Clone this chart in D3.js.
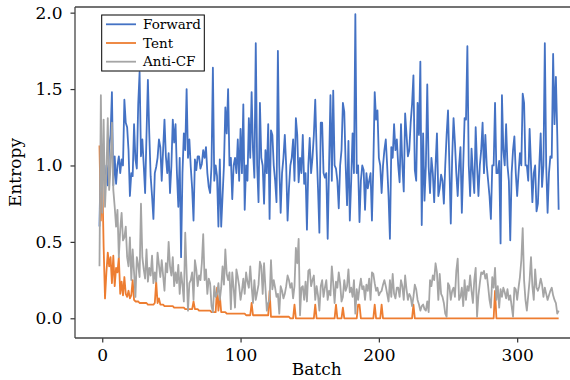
<!DOCTYPE html>
<html>
<head>
<meta charset="utf-8">
<script src="https://cdn.jsdelivr.net/npm/d3@7"></script>
<style>
  html, body { margin: 0; padding: 0; background: #fff; }
  svg { display: block; }
  text { font-family: "DejaVu Serif", "Liberation Serif", serif; fill: #000; }
</style>
</head>
<body>
<svg id="chart" width="570" height="380"></svg>
<script>
// ---- data ----
const batchStart = -2;
const seriesNames = ["Forward", "Tent", "Anti-CF"];
const xTicks = [0, 100, 200, 300];
const yTicks = [0.0, 0.5, 1.0, 1.5, 2.0];

const forward = [
0.60,1.12,
0.90,1.00,0.86,1.00,0.87,1.12,1.20,1.48,0.87,1.06,
0.88,1.00,1.06,0.95,1.04,1.00,1.43,1.28,1.25,1.10,
0.80,0.95,0.93,1.27,1.04,0.98,1.40,1.61,1.06,1.17,
1.00,0.82,1.20,1.56,1.21,0.93,0.80,0.65,0.95,0.99,
1.05,1.17,1.12,0.90,1.10,1.30,1.06,0.95,1.08,0.82,
1.00,1.30,1.15,1.27,0.95,0.73,1.05,0.40,0.95,1.21,
1.10,1.50,1.05,1.17,0.99,0.85,0.64,1.04,0.97,1.06,
1.06,0.98,1.01,1.10,1.05,1.12,0.95,0.86,0.82,1.00,
1.64,0.90,1.00,0.93,0.60,1.04,0.60,0.80,1.00,1.38,
1.21,1.50,1.00,1.05,0.78,1.00,1.05,0.95,1.17,0.90,
1.24,0.95,1.40,0.71,1.00,0.90,1.31,1.05,1.48,1.10,
0.92,1.80,1.00,0.76,1.41,1.05,1.00,0.75,1.10,0.95,
1.27,0.65,1.23,1.20,1.00,0.90,0.76,1.75,1.00,0.69,
0.95,1.05,1.20,1.00,0.64,0.85,1.00,1.05,1.17,0.90,
1.31,1.20,0.89,1.05,0.95,1.20,0.88,0.95,0.58,1.00,
1.18,0.95,1.05,1.20,1.43,1.10,0.85,0.56,1.28,1.28,
0.95,0.92,0.95,0.52,1.00,1.46,0.90,1.49,1.00,0.98,
0.90,0.72,1.00,1.10,1.41,1.35,1.00,0.74,1.16,0.64,
0.90,1.21,0.95,1.99,0.95,1.00,0.63,0.90,1.00,0.97,
0.71,0.95,0.85,0.90,0.95,0.64,1.00,1.48,1.30,1.36,
1.05,1.00,0.82,1.00,1.10,1.17,1.00,0.80,0.52,1.12,
1.05,1.27,1.10,1.17,1.00,0.89,1.27,1.00,0.83,1.34,
1.20,1.06,1.10,1.28,1.40,1.59,0.97,0.90,1.41,1.20,
1.68,0.61,1.21,0.77,1.00,1.53,0.99,0.82,1.05,0.95,
0.76,1.00,1.21,0.80,0.85,0.94,0.90,0.75,1.00,1.20,
1.36,1.00,0.62,1.05,1.31,1.15,0.95,0.80,1.00,1.12,
0.69,1.00,1.31,1.30,1.78,1.00,0.80,1.11,0.95,0.82,
1.25,1.00,0.80,1.00,1.10,1.28,0.95,1.20,1.00,0.90,
0.80,0.65,1.00,1.00,1.41,0.95,0.95,1.03,0.49,1.46,
1.10,1.00,1.27,1.00,0.90,0.51,0.95,1.10,1.19,0.95,
0.80,0.95,1.08,1.00,1.47,1.41,1.00,1.00,0.90,1.24,
1.00,0.76,0.95,1.00,0.70,0.75,1.00,1.21,0.86,1.00,
1.80,1.00,0.69,0.95,1.06,1.05,1.73,1.27,1.58,1.20,0.71
];

const tent = [
1.13,0.64,
0.95,0.47,0.13,0.30,0.43,0.34,0.40,0.23,0.41,0.21,
0.33,0.30,0.40,0.16,0.24,0.15,0.27,0.16,0.14,0.18,
0.13,0.15,0.25,0.12,0.11,0.11,0.11,0.10,0.10,0.10,
0.10,0.10,0.10,0.09,0.09,0.09,0.09,0.09,0.10,0.24,
0.10,0.13,0.09,0.09,0.09,0.08,0.08,0.08,0.08,0.08,
0.08,0.08,0.07,0.07,0.07,0.07,0.07,0.07,0.07,0.07,
0.06,0.06,0.06,0.06,0.06,0.06,0.11,0.06,0.06,0.06,
0.05,0.05,0.05,0.05,0.05,0.05,0.05,0.05,0.05,0.04,
0.04,0.04,0.04,0.20,0.05,0.15,0.04,0.04,0.04,0.04,
0.03,0.03,0.03,0.03,0.03,0.03,0.03,0.03,0.03,0.03,
0.03,0.03,0.03,0.03,0.02,0.02,0.02,0.02,0.10,0.02,
0.02,0.02,0.02,0.02,0.02,0.02,0.02,0.02,0.02,0.02,
0.02,0.18,0.01,0.01,0.01,0.01,0.01,0.01,0.01,0.01,
0.01,0.01,0.01,0.01,0.01,0.01,0.00,0.00,0.00,0.09,
0.00,0.00,0.00,0.00,0.00,0.00,0.00,0.00,0.00,0.00,
0.00,0.00,0.00,0.00,0.09,0.00,0.00,0.00,0.00,0.00,
0.00,0.00,0.00,0.00,0.00,0.00,0.00,0.00,0.00,0.09,
0.00,0.00,0.00,0.00,0.07,0.00,0.00,0.00,0.00,0.00,
0.00,0.00,0.00,0.00,0.00,0.09,0.09,0.00,0.00,0.00,
0.00,0.00,0.00,0.00,0.00,0.00,0.00,0.09,0.00,0.00,
0.00,0.00,0.09,0.00,0.00,0.00,0.00,0.00,0.00,0.00,
0.00,0.00,0.00,0.00,0.00,0.00,0.00,0.00,0.00,0.00,
0.00,0.00,0.00,0.00,0.00,0.09,0.00,0.00,0.00,0.00,
0.00,0.00,0.00,0.00,0.00,0.00,0.00,0.00,0.00,0.00,
0.00,0.00,0.00,0.00,0.00,0.00,0.00,0.00,0.00,0.00,
0.00,0.00,0.00,0.00,0.00,0.00,0.00,0.00,0.00,0.00,
0.00,0.00,0.00,0.00,0.00,0.00,0.00,0.00,0.00,0.00,
0.00,0.00,0.00,0.00,0.00,0.00,0.00,0.00,0.00,0.00,
0.00,0.00,0.00,0.00,0.18,0.00,0.00,0.00,0.00,0.00,
0.00,0.00,0.00,0.00,0.00,0.00,0.00,0.00,0.00,0.00,
0.00,0.00,0.00,0.00,0.00,0.00,0.00,0.00,0.00,0.00,
0.00,0.00,0.00,0.00,0.00,0.00,0.00,0.00,0.00,0.00,
0.00,0.00,0.00,0.00,0.00,0.00,0.00,0.00,0.00,0.00,0.00
];

const antiCF = [
0.34,1.46,
0.69,1.30,0.73,0.95,1.31,0.84,0.99,1.28,0.84,0.73,
0.60,0.71,0.40,0.58,0.69,0.51,0.53,0.60,0.40,0.34,
0.53,0.25,0.45,0.30,0.14,0.40,0.35,0.27,0.75,0.40,
0.32,0.26,0.45,0.24,0.33,0.28,0.41,0.23,0.30,0.24,
0.43,0.35,0.27,0.38,0.28,0.18,0.36,0.30,0.50,0.34,
0.28,0.40,0.21,0.30,0.23,0.35,0.16,0.30,0.22,0.11,
0.56,0.30,0.05,0.23,0.25,0.30,0.12,0.38,0.32,0.21,
0.28,0.25,0.36,0.55,0.25,0.32,0.16,0.26,0.23,0.08,
0.04,0.21,0.14,0.16,0.23,0.12,0.20,0.34,0.22,0.45,
0.29,0.25,0.30,0.06,0.30,0.20,0.07,0.32,0.27,0.21,
0.12,0.18,0.26,0.16,0.30,0.24,0.20,0.34,0.21,0.10,
0.25,0.12,0.17,0.22,0.37,0.34,0.16,0.36,0.20,0.05,
0.10,0.12,0.38,0.19,0.25,0.20,0.14,0.16,0.03,0.21,
0.18,0.13,0.16,0.21,0.28,0.25,0.20,0.23,0.13,0.21,
0.46,0.36,0.52,0.02,0.20,0.21,0.12,0.24,0.11,0.31,
0.32,0.21,0.25,0.28,0.12,0.21,0.15,0.05,0.21,0.25,
0.14,0.20,0.25,0.12,0.18,0.15,0.34,0.23,0.10,0.24,
0.20,0.30,0.23,0.11,0.14,0.25,0.18,0.21,0.32,0.17,
0.20,0.14,0.25,0.03,0.19,0.12,0.20,0.26,0.19,0.21,
0.12,0.22,0.18,0.26,0.12,0.30,0.29,0.23,0.18,0.20,
0.15,0.17,0.18,0.22,0.25,0.21,0.16,0.11,0.25,0.14,
0.29,0.16,0.13,0.20,0.20,0.14,0.25,0.21,0.12,0.28,
0.19,0.12,0.16,0.14,0.08,0.14,0.22,0.19,0.12,0.09,
0.05,0.08,0.09,0.06,0.05,0.11,0.04,0.25,0.21,0.28,
0.25,0.36,0.30,0.12,0.29,0.16,0.14,0.10,0.03,0.01,
0.23,0.21,0.12,0.18,0.20,0.14,0.31,0.39,0.12,0.14,
0.20,0.08,0.25,0.12,0.21,0.18,0.28,0.18,0.10,0.25,
0.33,0.01,0.15,0.23,0.30,0.29,0.31,0.26,0.29,0.21,
0.12,0.07,0.27,0.20,0.33,0.12,0.21,0.07,0.19,0.14,
0.20,0.17,0.13,0.19,0.12,0.15,0.08,0.01,0.20,0.19,
0.12,0.20,0.27,0.38,0.59,0.25,0.12,0.05,0.15,0.25,
0.40,0.21,0.12,0.32,0.20,0.18,0.21,0.26,0.22,0.14,
0.20,0.16,0.12,0.15,0.18,0.20,0.15,0.12,0.10,0.03,0.05
];

const seriesValues = [forward, tent, antiCF];
const seriesColors = ["#4472C4", "#ED7D31", "#A5A5A5"];

// ---- layout ----
const svg = d3.select("#chart");
const mLeft = 75, mRight = 570, mTop = 7, mBottom = 338;

const x = d3.scaleLinear().domain([-19.7, 338.2]).range([mLeft, mRight]);
const y = d3.scaleLinear().domain([-0.129, 2.037]).range([mBottom, mTop]);

const line = d3.line()
  .x((d, i) => x(batchStart + i))
  .y(d => y(d));

const plot = svg.append("g");
seriesValues.forEach((vals, k) => {
  plot.append("path")
    .datum(vals)
    .attr("fill", "none")
    .attr("stroke", seriesColors[k])
    .attr("stroke-width", 1.8)
    .attr("stroke-linejoin", "round")
    .attr("d", line);
});

// axes
const xAxis = svg.append("g")
  .attr("transform", `translate(0,${mBottom})`)
  .call(d3.axisBottom(x).tickValues(xTicks).tickSize(4.5).tickPadding(6).tickFormat(d3.format("d")));
const yAxis = svg.append("g")
  .attr("transform", `translate(${mLeft},0)`)
  .call(d3.axisLeft(y).tickValues(yTicks).tickSize(4.5).tickPadding(8).tickFormat(d3.format(".1f")));

[xAxis, yAxis].forEach(a => {
  a.select(".domain").remove();
  a.selectAll(".tick line").attr("stroke", "#333").attr("stroke-width", 1.2);
  a.selectAll(".tick text").style("font-size", "17px").attr("fill", "#000");
});

// spines
svg.append("line").attr("x1", mLeft).attr("x2", mLeft).attr("y1", mTop).attr("y2", mBottom)
  .attr("stroke", "#444").attr("stroke-width", 1.3);
svg.append("line").attr("x1", mLeft).attr("x2", mRight).attr("y1", mBottom).attr("y2", mBottom)
  .attr("stroke", "#444").attr("stroke-width", 1.3);
svg.append("line").attr("x1", mLeft).attr("x2", mRight).attr("y1", mTop).attr("y2", mTop)
  .attr("stroke", "#444").attr("stroke-width", 1.3);

// axis labels
svg.append("text").attr("x", 316.7).attr("y", 375)
  .attr("text-anchor", "middle").style("font-size", "17px").text("Batch");
svg.append("text").attr("transform", `translate(21,${(mTop + mBottom) / 2}) rotate(-90)`)
  .attr("text-anchor", "middle").style("font-size", "17px").text("Entropy");

// legend
const lg = svg.append("g");
lg.append("rect").attr("x", 101.7).attr("y", 15).attr("width", 102.6).attr("height", 56)
  .attr("fill", "#fff").attr("stroke", "#000").attr("stroke-width", 1);
seriesNames.forEach((name, k) => {
  const yy = 24.3 + k * 18.7;
  lg.append("line").attr("x1", 106).attr("x2", 136).attr("y1", yy).attr("y2", yy)
    .attr("stroke", seriesColors[k]).attr("stroke-width", 1.8);
  lg.append("text").attr("x", 143).attr("y", yy).attr("dy", "0.35em")
    .style("font-size", "13.5px").text(name);
});
</script>
</body>
</html>
